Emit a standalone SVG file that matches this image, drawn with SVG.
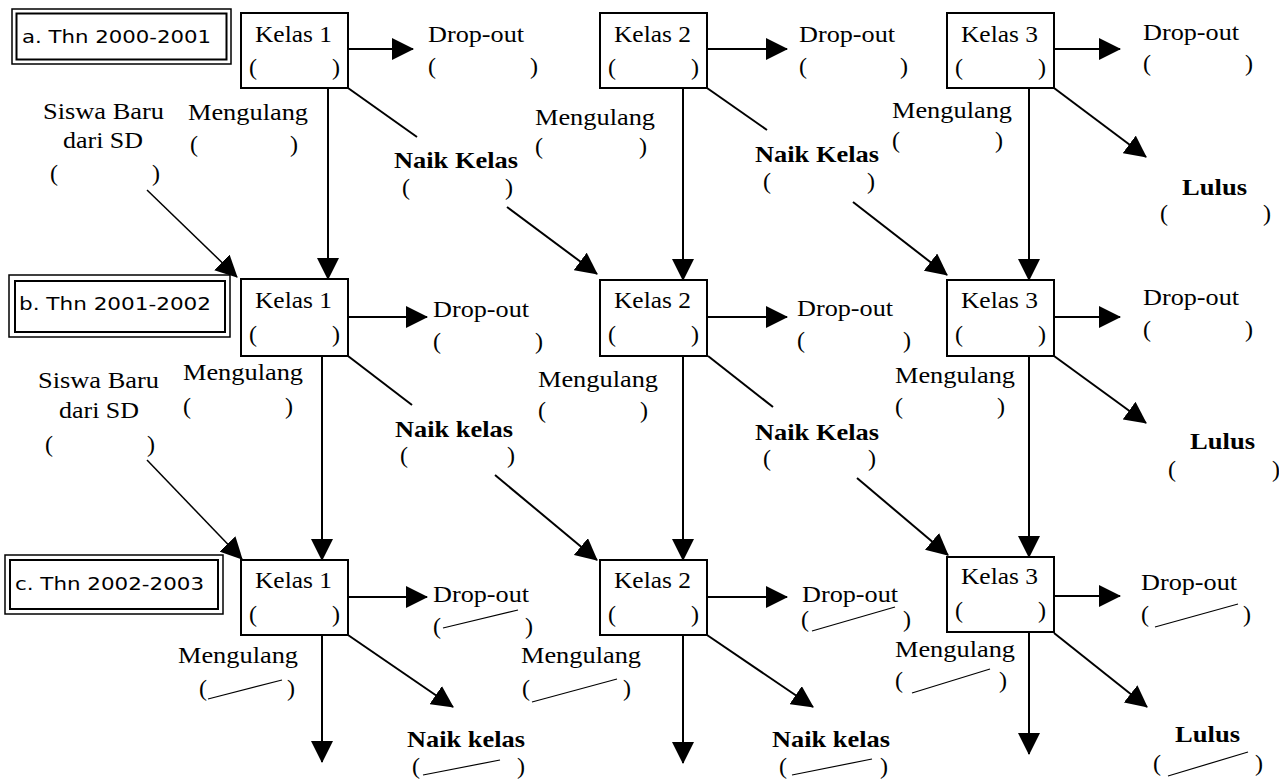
<svg xmlns="http://www.w3.org/2000/svg" width="1279" height="780" viewBox="0 0 1279 780">
<style>
.bg{fill:#fff}
.box{fill:#fff;stroke:#000;stroke-width:2}
.lb1{fill:#fff;stroke:#000;stroke-width:1.5}
.lb2{fill:none;stroke:#000;stroke-width:2}
.t{font-size:24px;fill:#000}
.b{font-weight:bold}
.lbl{font-family:'DejaVu Sans','Liberation Sans',sans-serif;font-size:18.5px;fill:#000}
.c{stroke:#000;stroke-width:2;fill:none}
.thin{stroke-width:1.5}
.sl{stroke:#000;stroke-width:1.2;fill:none}
</style>
<defs>
<marker id="ah" markerUnits="userSpaceOnUse" markerWidth="22" markerHeight="22" viewBox="0 0 22 22" refX="21" refY="11" orient="auto"><path d="M0,0 L22,11 L0,22 z" fill="#000"/></marker>
</defs>
<rect class="bg" x="0" y="0" width="1279" height="780"/>

<g id="connectors">
  <line class="c" x1="348" y1="49" x2="413" y2="49" marker-end="url(#ah)"/>
  <line class="c" x1="707" y1="49" x2="787" y2="49" marker-end="url(#ah)"/>
  <line class="c" x1="1054" y1="49" x2="1120" y2="49" marker-end="url(#ah)"/>
  <line class="c" x1="348" y1="317" x2="427" y2="317" marker-end="url(#ah)"/>
  <line class="c" x1="707" y1="317" x2="787" y2="317" marker-end="url(#ah)"/>
  <line class="c" x1="1054" y1="317" x2="1120" y2="317" marker-end="url(#ah)"/>
  <line class="c" x1="348" y1="597" x2="427" y2="597" marker-end="url(#ah)"/>
  <line class="c" x1="707" y1="597" x2="787" y2="597" marker-end="url(#ah)"/>
  <line class="c" x1="1054" y1="596" x2="1120" y2="596" marker-end="url(#ah)"/>
  <line class="c" x1="328" y1="88" x2="328" y2="279" marker-end="url(#ah)"/>
  <line class="c" x1="683" y1="88" x2="683" y2="280" marker-end="url(#ah)"/>
  <line class="c" x1="1029" y1="88" x2="1029" y2="280" marker-end="url(#ah)"/>
  <line class="c" x1="322" y1="356" x2="322" y2="560" marker-end="url(#ah)"/>
  <line class="c" x1="683" y1="356" x2="683" y2="560" marker-end="url(#ah)"/>
  <line class="c" x1="1029" y1="356" x2="1029" y2="557" marker-end="url(#ah)"/>
  <line class="c" x1="322" y1="635" x2="322" y2="762" marker-end="url(#ah)"/>
  <line class="c" x1="683" y1="635" x2="683" y2="763" marker-end="url(#ah)"/>
  <line class="c" x1="1029" y1="632" x2="1029" y2="754" marker-end="url(#ah)"/>
  <line class="c" x1="348" y1="88" x2="417" y2="137"/>
  <line class="c" x1="507" y1="207" x2="597" y2="274" marker-end="url(#ah)"/>
  <line class="c" x1="707" y1="88" x2="767" y2="130"/>
  <line class="c" x1="853" y1="202" x2="947" y2="275" marker-end="url(#ah)"/>
  <line class="c" x1="1054" y1="88" x2="1146" y2="157" marker-end="url(#ah)"/>
  <line class="c" x1="348" y1="356" x2="412" y2="405"/>
  <line class="c" x1="495" y1="475" x2="597" y2="560" marker-end="url(#ah)"/>
  <line class="c" x1="708" y1="356" x2="773" y2="407"/>
  <line class="c" x1="857" y1="478" x2="948" y2="555" marker-end="url(#ah)"/>
  <line class="c" x1="1054" y1="356" x2="1146" y2="423" marker-end="url(#ah)"/>
  <line class="c" x1="348" y1="635" x2="453" y2="707" marker-end="url(#ah)"/>
  <line class="c" x1="707" y1="635" x2="813" y2="707" marker-end="url(#ah)"/>
  <line class="c" x1="1054" y1="633" x2="1147" y2="707" marker-end="url(#ah)"/>
  <line class="c thin" x1="147" y1="190" x2="237" y2="277" marker-end="url(#ah)"/>
  <line class="c thin" x1="147" y1="460" x2="242" y2="559" marker-end="url(#ah)"/>
</g>

<g id="label-a">
  <rect class="lb1" x="12" y="9" width="219" height="55"/>
  <rect class="lb2" x="16.5" y="13.5" width="210" height="46"/>
  <text class="lbl" x="22" y="43" textLength="189" lengthAdjust="spacingAndGlyphs">a. Thn 2000-2001</text>
</g>
<g id="label-b">
  <rect class="lb1" x="9" y="275" width="221" height="62"/>
  <rect class="lb2" x="15" y="281" width="210" height="51"/>
  <text class="lbl" x="19" y="310" textLength="192" lengthAdjust="spacingAndGlyphs">b. Thn 2001-2002</text>
</g>
<g id="label-c">
  <rect class="lb1" x="5" y="555" width="218" height="59"/>
  <rect class="lb2" x="10" y="560" width="208" height="49"/>
  <text class="lbl" x="15" y="590" textLength="189" lengthAdjust="spacingAndGlyphs">c. Thn 2002-2003</text>
</g>

<g font-family="Liberation Serif">
<g id="a-kelas1">
  <rect class="box" x="241" y="13" width="107" height="75"/>
  <text class="t" x="255" y="42" textLength="77" lengthAdjust="spacingAndGlyphs">Kelas 1</text>
  <text class="t" y="75"><tspan x="249">(</tspan><tspan x="332">)</tspan></text>
</g>
<g id="a-kelas2">
  <rect class="box" x="600" y="13" width="107" height="75"/>
  <text class="t" x="614" y="42" textLength="77" lengthAdjust="spacingAndGlyphs">Kelas 2</text>
  <text class="t" y="75"><tspan x="608">(</tspan><tspan x="691">)</tspan></text>
</g>
<g id="a-kelas3">
  <rect class="box" x="947" y="13" width="107" height="75"/>
  <text class="t" x="961" y="42" textLength="77" lengthAdjust="spacingAndGlyphs">Kelas 3</text>
  <text class="t" y="75"><tspan x="955">(</tspan><tspan x="1038">)</tspan></text>
</g>
<g id="b-kelas1">
  <rect class="box" x="241" y="279" width="107" height="77"/>
  <text class="t" x="255" y="308" textLength="77" lengthAdjust="spacingAndGlyphs">Kelas 1</text>
  <text class="t" y="342"><tspan x="249">(</tspan><tspan x="332">)</tspan></text>
</g>
<g id="b-kelas2">
  <rect class="box" x="600" y="280" width="107" height="76"/>
  <text class="t" x="614" y="308" textLength="77" lengthAdjust="spacingAndGlyphs">Kelas 2</text>
  <text class="t" y="342"><tspan x="608">(</tspan><tspan x="691">)</tspan></text>
</g>
<g id="b-kelas3">
  <rect class="box" x="947" y="280" width="107" height="76"/>
  <text class="t" x="961" y="308" textLength="77" lengthAdjust="spacingAndGlyphs">Kelas 3</text>
  <text class="t" y="342"><tspan x="955">(</tspan><tspan x="1038">)</tspan></text>
</g>
<g id="c-kelas1">
  <rect class="box" x="241" y="560" width="107" height="75"/>
  <text class="t" x="255" y="588" textLength="77" lengthAdjust="spacingAndGlyphs">Kelas 1</text>
  <text class="t" y="622"><tspan x="249">(</tspan><tspan x="332">)</tspan></text>
</g>
<g id="c-kelas2">
  <rect class="box" x="600" y="560" width="107" height="75"/>
  <text class="t" x="614" y="588" textLength="77" lengthAdjust="spacingAndGlyphs">Kelas 2</text>
  <text class="t" y="622"><tspan x="608">(</tspan><tspan x="691">)</tspan></text>
</g>
<g id="c-kelas3">
  <rect class="box" x="947" y="557" width="107" height="75"/>
  <text class="t" x="961" y="584" textLength="77" lengthAdjust="spacingAndGlyphs">Kelas 3</text>
  <text class="t" y="618"><tspan x="955">(</tspan><tspan x="1038">)</tspan></text>
</g>

<g id="a-dropout1"><text class="t" x="428" y="42" textLength="96" lengthAdjust="spacingAndGlyphs">Drop-out</text><text class="t" y="74"><tspan x="428">(</tspan><tspan x="530">)</tspan></text></g>
<g id="a-dropout2"><text class="t" x="799" y="42" textLength="96" lengthAdjust="spacingAndGlyphs">Drop-out</text><text class="t" y="74"><tspan x="799">(</tspan><tspan x="900">)</tspan></text></g>
<g id="a-dropout3"><text class="t" x="1143" y="40" textLength="96" lengthAdjust="spacingAndGlyphs">Drop-out</text><text class="t" y="71"><tspan x="1143">(</tspan><tspan x="1245">)</tspan></text></g>
<g id="b-dropout1"><text class="t" x="433" y="317" textLength="96" lengthAdjust="spacingAndGlyphs">Drop-out</text><text class="t" y="349"><tspan x="433">(</tspan><tspan x="535">)</tspan></text></g>
<g id="b-dropout2"><text class="t" x="797" y="316" textLength="96" lengthAdjust="spacingAndGlyphs">Drop-out</text><text class="t" y="348"><tspan x="797">(</tspan><tspan x="903">)</tspan></text></g>
<g id="b-dropout3"><text class="t" x="1143" y="305" textLength="96" lengthAdjust="spacingAndGlyphs">Drop-out</text><text class="t" y="337"><tspan x="1143">(</tspan><tspan x="1245">)</tspan></text></g>
<g id="c-dropout1"><text class="t" x="433" y="602" textLength="96" lengthAdjust="spacingAndGlyphs">Drop-out</text><text class="t" y="634"><tspan x="433">(</tspan><tspan x="525">)</tspan></text><line class="sl" x1="443" y1="628" x2="518" y2="610"/></g>
<g id="c-dropout2"><text class="t" x="802" y="602" textLength="96" lengthAdjust="spacingAndGlyphs">Drop-out</text><text class="t" y="627"><tspan x="801">(</tspan><tspan x="903">)</tspan></text><line class="sl" x1="812" y1="631" x2="895" y2="607"/></g>
<g id="c-dropout3"><text class="t" x="1141" y="590" textLength="96" lengthAdjust="spacingAndGlyphs">Drop-out</text><text class="t" y="622"><tspan x="1141">(</tspan><tspan x="1243">)</tspan></text><line class="sl" x1="1155" y1="627" x2="1238" y2="604"/></g>

<g id="a-mengulang1"><text class="t" x="188" y="120" textLength="120" lengthAdjust="spacingAndGlyphs">Mengulang</text><text class="t" y="152"><tspan x="190">(</tspan><tspan x="290">)</tspan></text></g>
<g id="a-mengulang2"><text class="t" x="535" y="125" textLength="120" lengthAdjust="spacingAndGlyphs">Mengulang</text><text class="t" y="154"><tspan x="535">(</tspan><tspan x="639">)</tspan></text></g>
<g id="a-mengulang3"><text class="t" x="892" y="118" textLength="120" lengthAdjust="spacingAndGlyphs">Mengulang</text><text class="t" y="148"><tspan x="892">(</tspan><tspan x="995">)</tspan></text></g>
<g id="b-mengulang1"><text class="t" x="183" y="380" textLength="120" lengthAdjust="spacingAndGlyphs">Mengulang</text><text class="t" y="414"><tspan x="183">(</tspan><tspan x="285">)</tspan></text></g>
<g id="b-mengulang2"><text class="t" x="538" y="387" textLength="120" lengthAdjust="spacingAndGlyphs">Mengulang</text><text class="t" y="418"><tspan x="538">(</tspan><tspan x="640">)</tspan></text></g>
<g id="b-mengulang3"><text class="t" x="895" y="383" textLength="120" lengthAdjust="spacingAndGlyphs">Mengulang</text><text class="t" y="414"><tspan x="895">(</tspan><tspan x="997">)</tspan></text></g>
<g id="c-mengulang1"><text class="t" x="178" y="663" textLength="120" lengthAdjust="spacingAndGlyphs">Mengulang</text><text class="t" y="696"><tspan x="199">(</tspan><tspan x="287">)</tspan></text><line class="sl" x1="208" y1="699" x2="282" y2="680"/></g>
<g id="c-mengulang2"><text class="t" x="521" y="663" textLength="120" lengthAdjust="spacingAndGlyphs">Mengulang</text><text class="t" y="696"><tspan x="522">(</tspan><tspan x="623">)</tspan></text><line class="sl" x1="532" y1="702" x2="617" y2="679"/></g>
<g id="c-mengulang3"><text class="t" x="895" y="657" textLength="120" lengthAdjust="spacingAndGlyphs">Mengulang</text><text class="t" y="688"><tspan x="895">(</tspan><tspan x="999">)</tspan></text><line class="sl" x1="912" y1="693" x2="990" y2="669"/></g>

<g id="a-naik1"><text class="t b" x="394" y="168" textLength="124" lengthAdjust="spacingAndGlyphs">Naik Kelas</text><text class="t" y="195"><tspan x="402">(</tspan><tspan x="505">)</tspan></text></g>
<g id="a-naik2"><text class="t b" x="755" y="162" textLength="124" lengthAdjust="spacingAndGlyphs">Naik Kelas</text><text class="t" y="189"><tspan x="763">(</tspan><tspan x="867">)</tspan></text></g>
<g id="a-lulus"><text class="t b" x="1182" y="195" textLength="65" lengthAdjust="spacingAndGlyphs">Lulus</text><text class="t" y="221"><tspan x="1160">(</tspan><tspan x="1263">)</tspan></text></g>
<g id="b-naik1"><text class="t b" x="395" y="437" textLength="118" lengthAdjust="spacingAndGlyphs">Naik kelas</text><text class="t" y="463"><tspan x="400">(</tspan><tspan x="507">)</tspan></text></g>
<g id="b-naik2"><text class="t b" x="755" y="440" textLength="124" lengthAdjust="spacingAndGlyphs">Naik Kelas</text><text class="t" y="466"><tspan x="763">(</tspan><tspan x="868">)</tspan></text></g>
<g id="b-lulus"><text class="t b" x="1190" y="449" textLength="65" lengthAdjust="spacingAndGlyphs">Lulus</text><text class="t" y="477"><tspan x="1168">(</tspan><tspan x="1272">)</tspan></text></g>
<g id="c-naik1"><text class="t b" x="407" y="747" textLength="118" lengthAdjust="spacingAndGlyphs">Naik kelas</text><text class="t" y="774"><tspan x="412">(</tspan><tspan x="517">)</tspan></text><line class="sl" x1="423" y1="775" x2="500" y2="760"/></g>
<g id="c-naik2"><text class="t b" x="772" y="747" textLength="118" lengthAdjust="spacingAndGlyphs">Naik kelas</text><text class="t" y="774"><tspan x="779">(</tspan><tspan x="880">)</tspan></text><line class="sl" x1="792" y1="775" x2="872" y2="759"/></g>
<g id="c-lulus"><text class="t b" x="1175" y="742" textLength="65" lengthAdjust="spacingAndGlyphs">Lulus</text><text class="t" y="771"><tspan x="1153">(</tspan><tspan x="1255">)</tspan></text><line class="sl" x1="1168" y1="776" x2="1248" y2="752"/></g>

<g id="a-siswa"><text class="t" x="43" y="119" textLength="121" lengthAdjust="spacingAndGlyphs">Siswa Baru</text><text class="t" x="63" y="148" textLength="80" lengthAdjust="spacingAndGlyphs">dari SD</text><text class="t" y="181"><tspan x="50">(</tspan><tspan x="152">)</tspan></text></g>
<g id="b-siswa"><text class="t" x="38" y="388" textLength="121" lengthAdjust="spacingAndGlyphs">Siswa Baru</text><text class="t" x="59" y="418" textLength="80" lengthAdjust="spacingAndGlyphs">dari SD</text><text class="t" y="452"><tspan x="45">(</tspan><tspan x="147">)</tspan></text></g>
</g>
</svg>
